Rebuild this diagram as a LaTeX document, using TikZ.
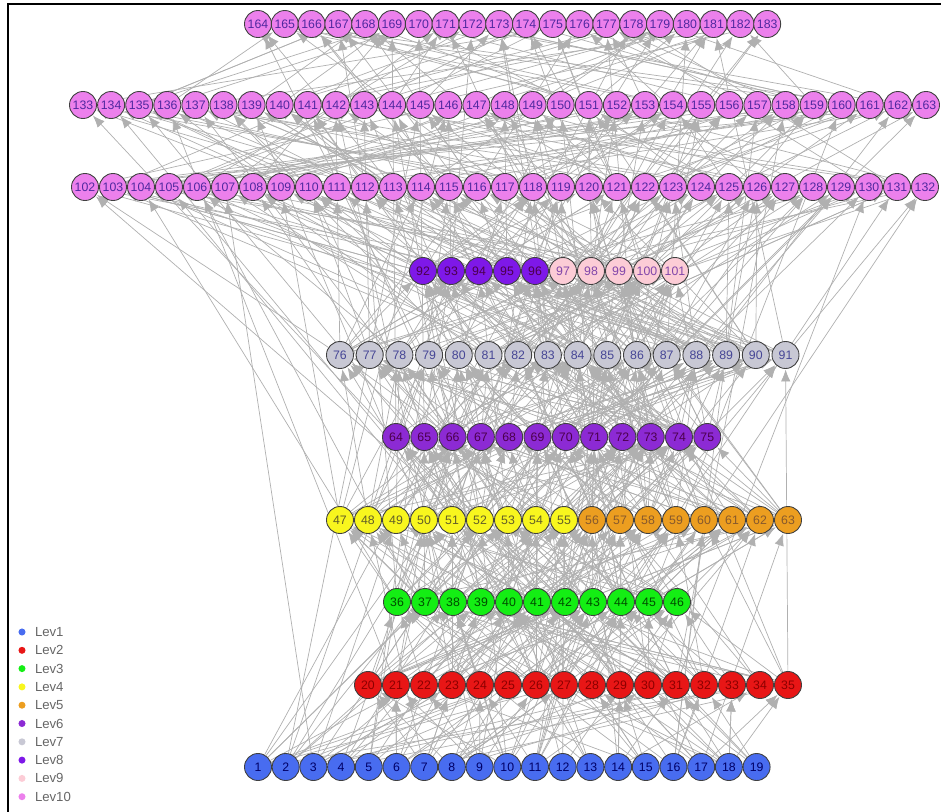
\documentclass[tikz,border=0pt]{standalone}
\usepackage{fontspec}
\setmainfont{Liberation Sans}
\usepackage{xcolor}
\usepackage{tikz}
\usetikzlibrary{arrows.meta,backgrounds,positioning}

\definecolor{lev1}{RGB}{72,108,240}
\definecolor{lev2}{RGB}{232,22,22}
\definecolor{lev3}{RGB}{20,238,20}
\definecolor{lev4}{RGB}{248,246,30}
\definecolor{lev5}{RGB}{236,158,32}
\definecolor{lev6}{RGB}{140,42,212}
\definecolor{lev7}{RGB}{200,200,212}
\definecolor{lev8}{RGB}{126,24,232}
\definecolor{lev9}{RGB}{252,204,214}
\definecolor{lev10}{RGB}{236,128,236}
\definecolor{linkgray}{RGB}{176,176,176}

\newcommand{\drawRow}[6]{% first, last, x of first, spacing, y, style
  \foreach \i in {#1,...,#2}
    \node[#6] (n\i) at ({#3+(\i-#1)*#4}, #5) {\i};
}
\newcommand{\drawLinks}[5]{% targets #1..#2, sources #3..#4, #5 links each
  \foreach \t in {#1,...,#2}
    \foreach \k in {1,...,#5}{
      \pgfmathrandominteger{\s}{#3}{#4}
      \draw[link] (n\s) -- (n\t);
    }
}

\begin{document}
\begin{tikzpicture}[x=0.02cm,y=-0.02cm,
  vertex/.style={circle,draw=black!75,line width=0.5pt,minimum size=0.54cm,
    inner sep=0pt,font=\fontsize{7}{7}\selectfont},
  lev1/.style={vertex,fill=lev1,text=blue!40!black},
  lev2/.style={vertex,fill=lev2,text=red!55!black},
  lev3/.style={vertex,fill=lev3,text=green!30!black},
  lev4/.style={vertex,fill=lev4,text=olive!60!black},
  lev5/.style={vertex,fill=lev5,text=brown!70!black},
  lev6/.style={vertex,fill=lev6,text=violet!60!black},
  lev7/.style={vertex,fill=lev7,text={rgb,255:red,70;green,70;blue,150}},
  lev8/.style={vertex,fill=lev8,text=violet!60!black},
  lev9/.style={vertex,fill=lev9,text={rgb,255:red,130;green,70;blue,170}},
  lev10/.style={vertex,fill=lev10,text={rgb,255:red,80;green,40;blue,160}},
  link/.style={draw=linkgray,line width=0.4pt,
    -{Latex[length=2.4mm,width=1.9mm]},shorten >=0.3pt},
  dot/.style={circle,inner sep=0pt,minimum size=4pt},
  keytext/.style={text=black!60,font=\fontsize{7.5}{8}\selectfont,inner sep=1pt}]
\useasboundingbox (0,0) rectangle (941,812);
\pgfmathsetseed{17}

% Rows, bottom to top
\drawRow{1}{19}{258}{27.7}{767}{lev1}
\drawRow{20}{35}{368}{28}{685}{lev2}
\drawRow{36}{46}{397}{28}{602}{lev3}
\drawRow{47}{55}{340}{28}{520}{lev4}
\drawRow{56}{63}{592}{28}{520}{lev5}
\drawRow{64}{75}{396}{28.3}{437}{lev6}
\drawRow{76}{91}{340}{29.7}{355}{lev7}
\drawRow{92}{96}{423}{28}{271}{lev8}
\drawRow{97}{101}{563}{28}{271}{lev9}
\drawRow{102}{132}{85}{28}{187}{lev10}
\drawRow{133}{163}{83}{28.1}{105}{lev10}
\drawRow{164}{183}{258}{26.8}{24}{lev10}

% Links (behind the vertices)
\begin{pgfonlayer}{background}
\drawLinks{20}{35}{1}{19}{3}
\drawLinks{36}{46}{20}{35}{4}
\drawLinks{36}{46}{1}{19}{2}
\drawLinks{47}{63}{36}{46}{3}
\drawLinks{47}{63}{20}{35}{2}
\drawLinks{47}{63}{1}{19}{1}
\drawLinks{64}{75}{47}{63}{4}
\drawLinks{64}{75}{36}{46}{2}
\drawLinks{64}{75}{1}{35}{1}
\drawLinks{76}{91}{64}{75}{4}
\drawLinks{76}{91}{47}{63}{2}
\drawLinks{76}{91}{1}{46}{1}
\drawLinks{92}{101}{76}{91}{5}
\drawLinks{92}{101}{47}{75}{2}
\drawLinks{92}{101}{1}{46}{1}
\drawLinks{102}{132}{92}{101}{1}
\drawLinks{102}{132}{76}{91}{2}
\drawLinks{102}{132}{1}{75}{1}
\drawLinks{133}{163}{102}{132}{2}
\drawLinks{133}{163}{76}{101}{1}
\drawLinks{133}{163}{1}{75}{1}
\drawLinks{164}{183}{133}{163}{2}
\drawLinks{164}{183}{102}{132}{1}
\drawLinks{164}{183}{47}{101}{1}
\end{pgfonlayer}

% Legend
\foreach \j in {1,...,10}{
  \node[dot,fill=lev\j] (d\j) at (22, {632+(\j-1)*18.3}) {};
  \node[keytext,right=4pt of d\j] (k\j) {Lev\j};
}

% Frame
\draw[line width=1.5pt] (8,812) -- (8,4) -- (941,4);
\end{tikzpicture}
\end{document}
